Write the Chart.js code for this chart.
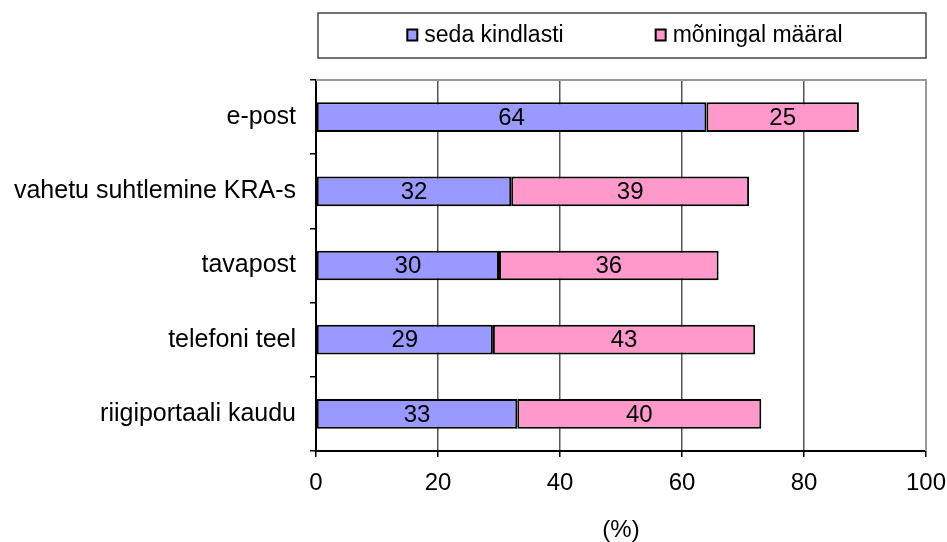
<!DOCTYPE html>
<html><head><meta charset="utf-8">
<script src="https://cdn.jsdelivr.net/npm/chart.js@4/dist/chart.umd.min.js"></script>
<style>html,body{margin:0;padding:0;background:#fff}#wrap{width:947px;height:542px}</style>
</head><body><div id="wrap"><canvas id="c" width="947" height="542"></canvas></div>
<script>
const categories = ["e-post", "vahetu suhtlemine KRA-s", "tavapost", "telefoni teel", "riigiportaali kaudu"];
const seriesNames = ["seda kindlasti", "mõningal määral"];
const sedaKindlasti = [64, 32, 30, 29, 33];
const moningalMaaral = [25, 39, 36, 43, 40];
const xTicks = [0, 20, 40, 60, 80, 100];
const axisTitle = "(%)";
const colors = ["#9999FF", "#FF99CC"];
const FONT = "'Liberation Sans', Arial, sans-serif";

const frameAndLabels = {
  id: 'frameAndLabels',
  beforeDatasetsDraw(chart) {
    const {ctx, chartArea: a} = chart;
    ctx.save();
    ctx.strokeStyle = '#999999';
    ctx.lineWidth = 2;
    ctx.beginPath();
    ctx.moveTo(a.left, a.top); ctx.lineTo(a.right, a.top); ctx.lineTo(a.right, a.bottom);
    ctx.stroke();
    ctx.restore();
  },
  afterDatasetsDraw(chart) {
    const {ctx} = chart;
    ctx.save();
    ctx.font = '24px ' + FONT;
    ctx.fillStyle = '#000';
    ctx.textAlign = 'center';
    ctx.textBaseline = 'middle';
    chart.data.datasets.forEach((ds, i) => {
      chart.getDatasetMeta(i).data.forEach((bar, j) => {
        const left = Math.min(bar.base, bar.x), right = Math.max(bar.base, bar.x);
        ctx.fillText(String(ds.data[j]), (left + right) / 2, bar.y + 1);
      });
    });
    ctx.restore();
  },
  afterDraw(chart) {
    const {ctx, chartArea: a} = chart;
    ctx.save();
    const lx = a.left + 2, ly = 13, lw = a.right - a.left - 2, lh = 45;
    ctx.strokeStyle = '#444';
    ctx.lineWidth = 1.5;
    ctx.strokeRect(lx, ly, lw, lh);
    ctx.font = '23px ' + FONT;
    ctx.textBaseline = 'middle';
    ctx.textAlign = 'left';
    const box = 10, gap = 7, spacing = 92;
    const widths = seriesNames.map(n => box + gap + ctx.measureText(n).width);
    const total = widths.reduce((s, w) => s + w, 0) + spacing;
    let x = lx + lw / 2 - total / 2 + 3;
    const cy = ly + lh / 2;
    seriesNames.forEach((n, i) => {
      ctx.fillStyle = colors[i];
      ctx.fillRect(x, cy - 6, box, box + 1);
      ctx.strokeStyle = '#000';
      ctx.lineWidth = 2;
      ctx.strokeRect(x, cy - 6, box, box + 1);
      ctx.fillStyle = '#000';
      ctx.fillText(n, x + box + gap, cy);
      x += widths[i] + spacing;
    });
    ctx.restore();
  }
};

new Chart(document.getElementById('c'), {
  type: 'bar',
  data: {
    labels: categories,
    datasets: [
      {label: seriesNames[0], data: sedaKindlasti, backgroundColor: colors[0], borderColor: '#000', borderWidth: 2, borderSkipped: false},
      {label: seriesNames[1], data: moningalMaaral, backgroundColor: colors[1], borderColor: '#000', borderWidth: 2, borderSkipped: false}
    ]
  },
  options: {
    indexAxis: 'y',
    responsive: false,
    animation: false,
    devicePixelRatio: 1,
    layout: {padding: {top: 80, right: 21, left: 0, bottom: 0}},
    plugins: {legend: {display: false}, tooltip: {enabled: false}},
    datasets: {bar: {categoryPercentage: 0.4, barPercentage: 1}},
    scales: {
      x: {
        stacked: true, min: 0, max: 100,
        afterBuildTicks(s) { s.ticks = xTicks.map(v => ({value: v})); },
        ticks: {color: '#000', font: {family: FONT, size: 24}, padding: 12, maxRotation: 0},
        grid: {color: '#555555', lineWidth: 1.5, tickLength: 6, tickColor: '#000'},
        border: {color: '#000', width: 2},
        title: {display: true, text: axisTitle, color: '#000', font: {family: FONT, size: 24, lineHeight: 1}, padding: {top: 10, bottom: 0}},
        afterFit(s) { s.height = 91; s.paddingLeft = 0; s.paddingRight = 0; }
      },
      y: {
        stacked: true,
        ticks: {color: '#000', font: {family: FONT, size: 25}, padding: 14},
        grid: {drawOnChartArea: false, offset: true, tickLength: 6, color: '#000', lineWidth: 1.5},
        border: {color: '#000', width: 2},
        afterFit(s) { s.width = 316; s.paddingTop = 0; s.paddingBottom = 0; }
      }
    }
  },
  plugins: [frameAndLabels]
});
</script></body></html>
